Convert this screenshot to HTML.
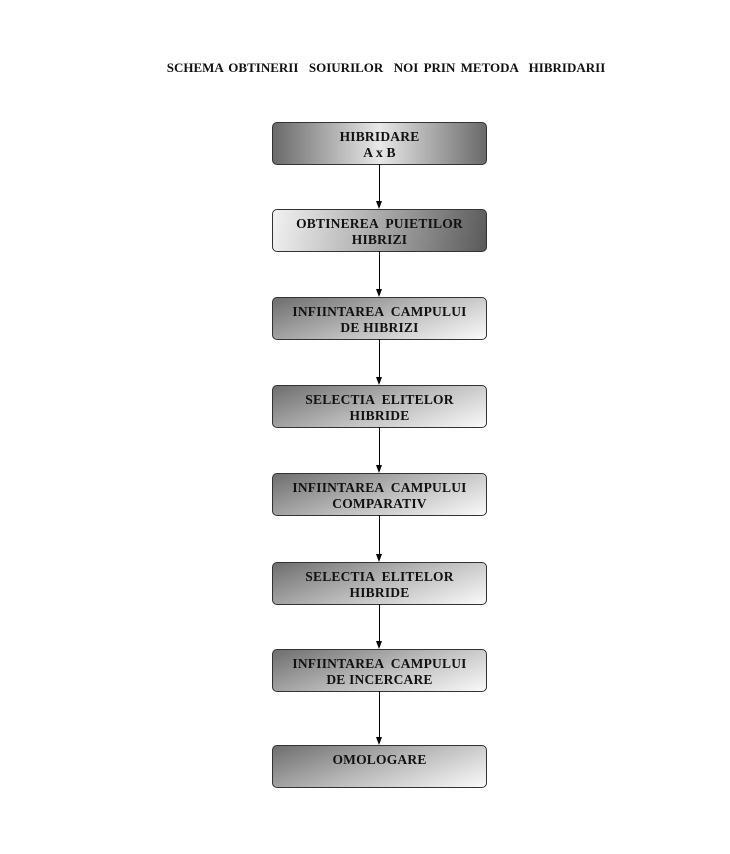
<!DOCTYPE html>
<html><head><style>
body{margin:0;width:730px;height:854px;background:#fff;position:relative;font-family:"Liberation Serif",serif;font-weight:bold;color:#111}
.t{position:absolute;top:60px;left:0;width:772px;text-align:center;font-size:13px;word-spacing:2px}
.b{position:absolute;left:272px;width:213px;border:1px solid #333;border-radius:5px;text-align:center;font-size:13.5px;line-height:16px;padding-top:6px;box-sizing:content-box;height:35px;letter-spacing:0.2px}
.g1{background:linear-gradient(90deg,#6a6a6a,#e8e8e8 50%,#6a6a6a)}
.g2{background:linear-gradient(100deg,#f2f2f2,#9a9a9a 60%,#5a5a5a)}
.g3{background:linear-gradient(160deg,#6e6e6e,#b8b8b8 50%,#fafafa)}
.l{position:absolute;left:379px;width:1px;background:#000}
.a{position:absolute;left:376px;width:0;height:0;border-left:3.5px solid transparent;border-right:3.5px solid transparent;border-top:8px solid #000}
</style></head><body>
<div class="t">SCHEMA OBTINERII &nbsp;SOIURILOR &nbsp;NOI PRIN METODA &nbsp;HIBRIDARII</div>
<div class="b g1" style="top:122px">HIBRIDARE<br>A x B</div>
<div class="b g2" style="top:209px">OBTINEREA &nbsp;PUIETILOR<br>HIBRIZI</div>
<div class="b g3" style="top:297px">INFIINTAREA &nbsp;CAMPULUI<br>DE HIBRIZI</div>
<div class="b g3" style="top:385px">SELECTIA &nbsp;ELITELOR<br>HIBRIDE</div>
<div class="b g3" style="top:473px">INFIINTAREA &nbsp;CAMPULUI<br>COMPARATIV</div>
<div class="b g3" style="top:562px">SELECTIA &nbsp;ELITELOR<br>HIBRIDE</div>
<div class="b g3" style="top:649px">INFIINTAREA &nbsp;CAMPULUI<br>DE INCERCARE</div>
<div class="b g3" style="top:745px">OMOLOGARE</div>
<div class="l" style="top:164px;height:40px"></div><div class="a" style="top:201px"></div>
<div class="l" style="top:251px;height:41px"></div><div class="a" style="top:289px"></div>
<div class="l" style="top:339px;height:41px"></div><div class="a" style="top:377px"></div>
<div class="l" style="top:427px;height:41px"></div><div class="a" style="top:465px"></div>
<div class="l" style="top:515px;height:42px"></div><div class="a" style="top:554px"></div>
<div class="l" style="top:604px;height:40px"></div><div class="a" style="top:641px"></div>
<div class="l" style="top:691px;height:49px"></div><div class="a" style="top:737px"></div>
</body></html>
